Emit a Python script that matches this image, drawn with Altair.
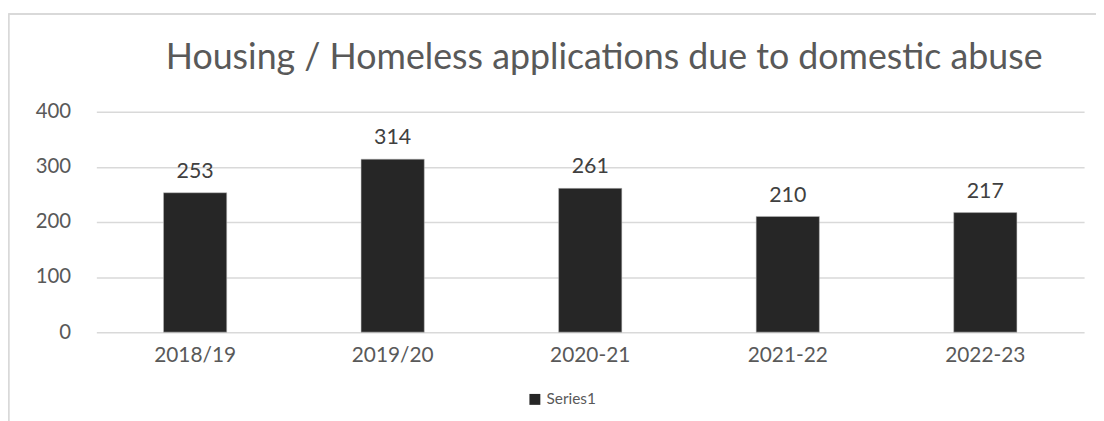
import altair as alt
import pandas as pd

categories = ["2018/19", "2019/20", "2020-21", "2021-22", "2022-23"]
values = [253, 314, 261, 210, 217]
series = ["Series1"] * 5
title_text = ["Housing / Homeless applications due to domestic abuse"]

df = pd.DataFrame({"year": categories, "value": values, "series": series})
tdf = pd.DataFrame({"t": title_text})

FONT = "Lato"
W, H = 995, 222
PL, PT = 89, 103

base = alt.Chart(df)

bars = base.mark_bar(color="#262626", stroke="#bfbfbf", strokeWidth=0.5).encode(
    x=alt.X("year:N", sort=categories, title=None,
            scale=alt.Scale(paddingInner=0.68, paddingOuter=0.34),
            axis=alt.Axis(labelAngle=0, labelFontSize=21, labelColor="#595959",
                          labelFont=FONT, ticks=False, domain=False, labelPadding=13)),
    y=alt.Y("value:Q", title=None,
            scale=alt.Scale(domain=[0, 400]),
            axis=alt.Axis(values=[0, 100, 200, 300, 400], labelFontSize=20.5,
                          labelColor="#595959", labelFont=FONT, ticks=False,
                          domain=False, labelPadding=26, gridColor="#d9d9d9",
                          gridWidth=1.5)),
    color=alt.Color("series:N", scale=alt.Scale(range=["#262626"]),
                    legend=alt.Legend(title=None, orient="none", legendX=434, legendY=282,
                                      symbolType="square", symbolSize=121,
                                      labelFontSize=15.5, labelColor="#595959",
                                      labelFont=FONT, symbolStrokeWidth=0,
                                      labelOffset=4)),
)

labels = base.mark_text(baseline="alphabetic", dy=-15, fontSize=21.5, color="#404040",
                        font=FONT).encode(
    x=alt.X("year:N", sort=categories),
    y="value:Q",
    text="value:Q",
)

title = alt.Chart(tdf).mark_text(baseline="alphabetic", align="center", fontSize=36,
                                 font=FONT, color="#595959").encode(
    x=alt.value(W / 2 + 14), y=alt.value(-43), text="t:N")

frame_left = base.mark_rule(color="#d9d9d9", strokeWidth=1.5, clip=False).encode(
    x=alt.value(-PL + 0.5), y=alt.value(-PT + 4.5), y2=alt.value(H + 200))
frame_top = base.mark_rule(color="#d9d9d9", strokeWidth=1.5, clip=False).encode(
    x=alt.value(-PL + 0.5), x2=alt.value(W + 200), y=alt.value(-PT + 4.5))

chart = alt.layer(bars, labels, title, frame_left, frame_top).properties(
    width=W, height=H,
    autosize=alt.AutoSizeParams(type="none"),
    padding={"left": PL, "top": PT, "right": 12, "bottom": 88},
).configure_view(stroke=None)

chart.save("out.html", embed_options={"renderer": "svg", "actions": False})
